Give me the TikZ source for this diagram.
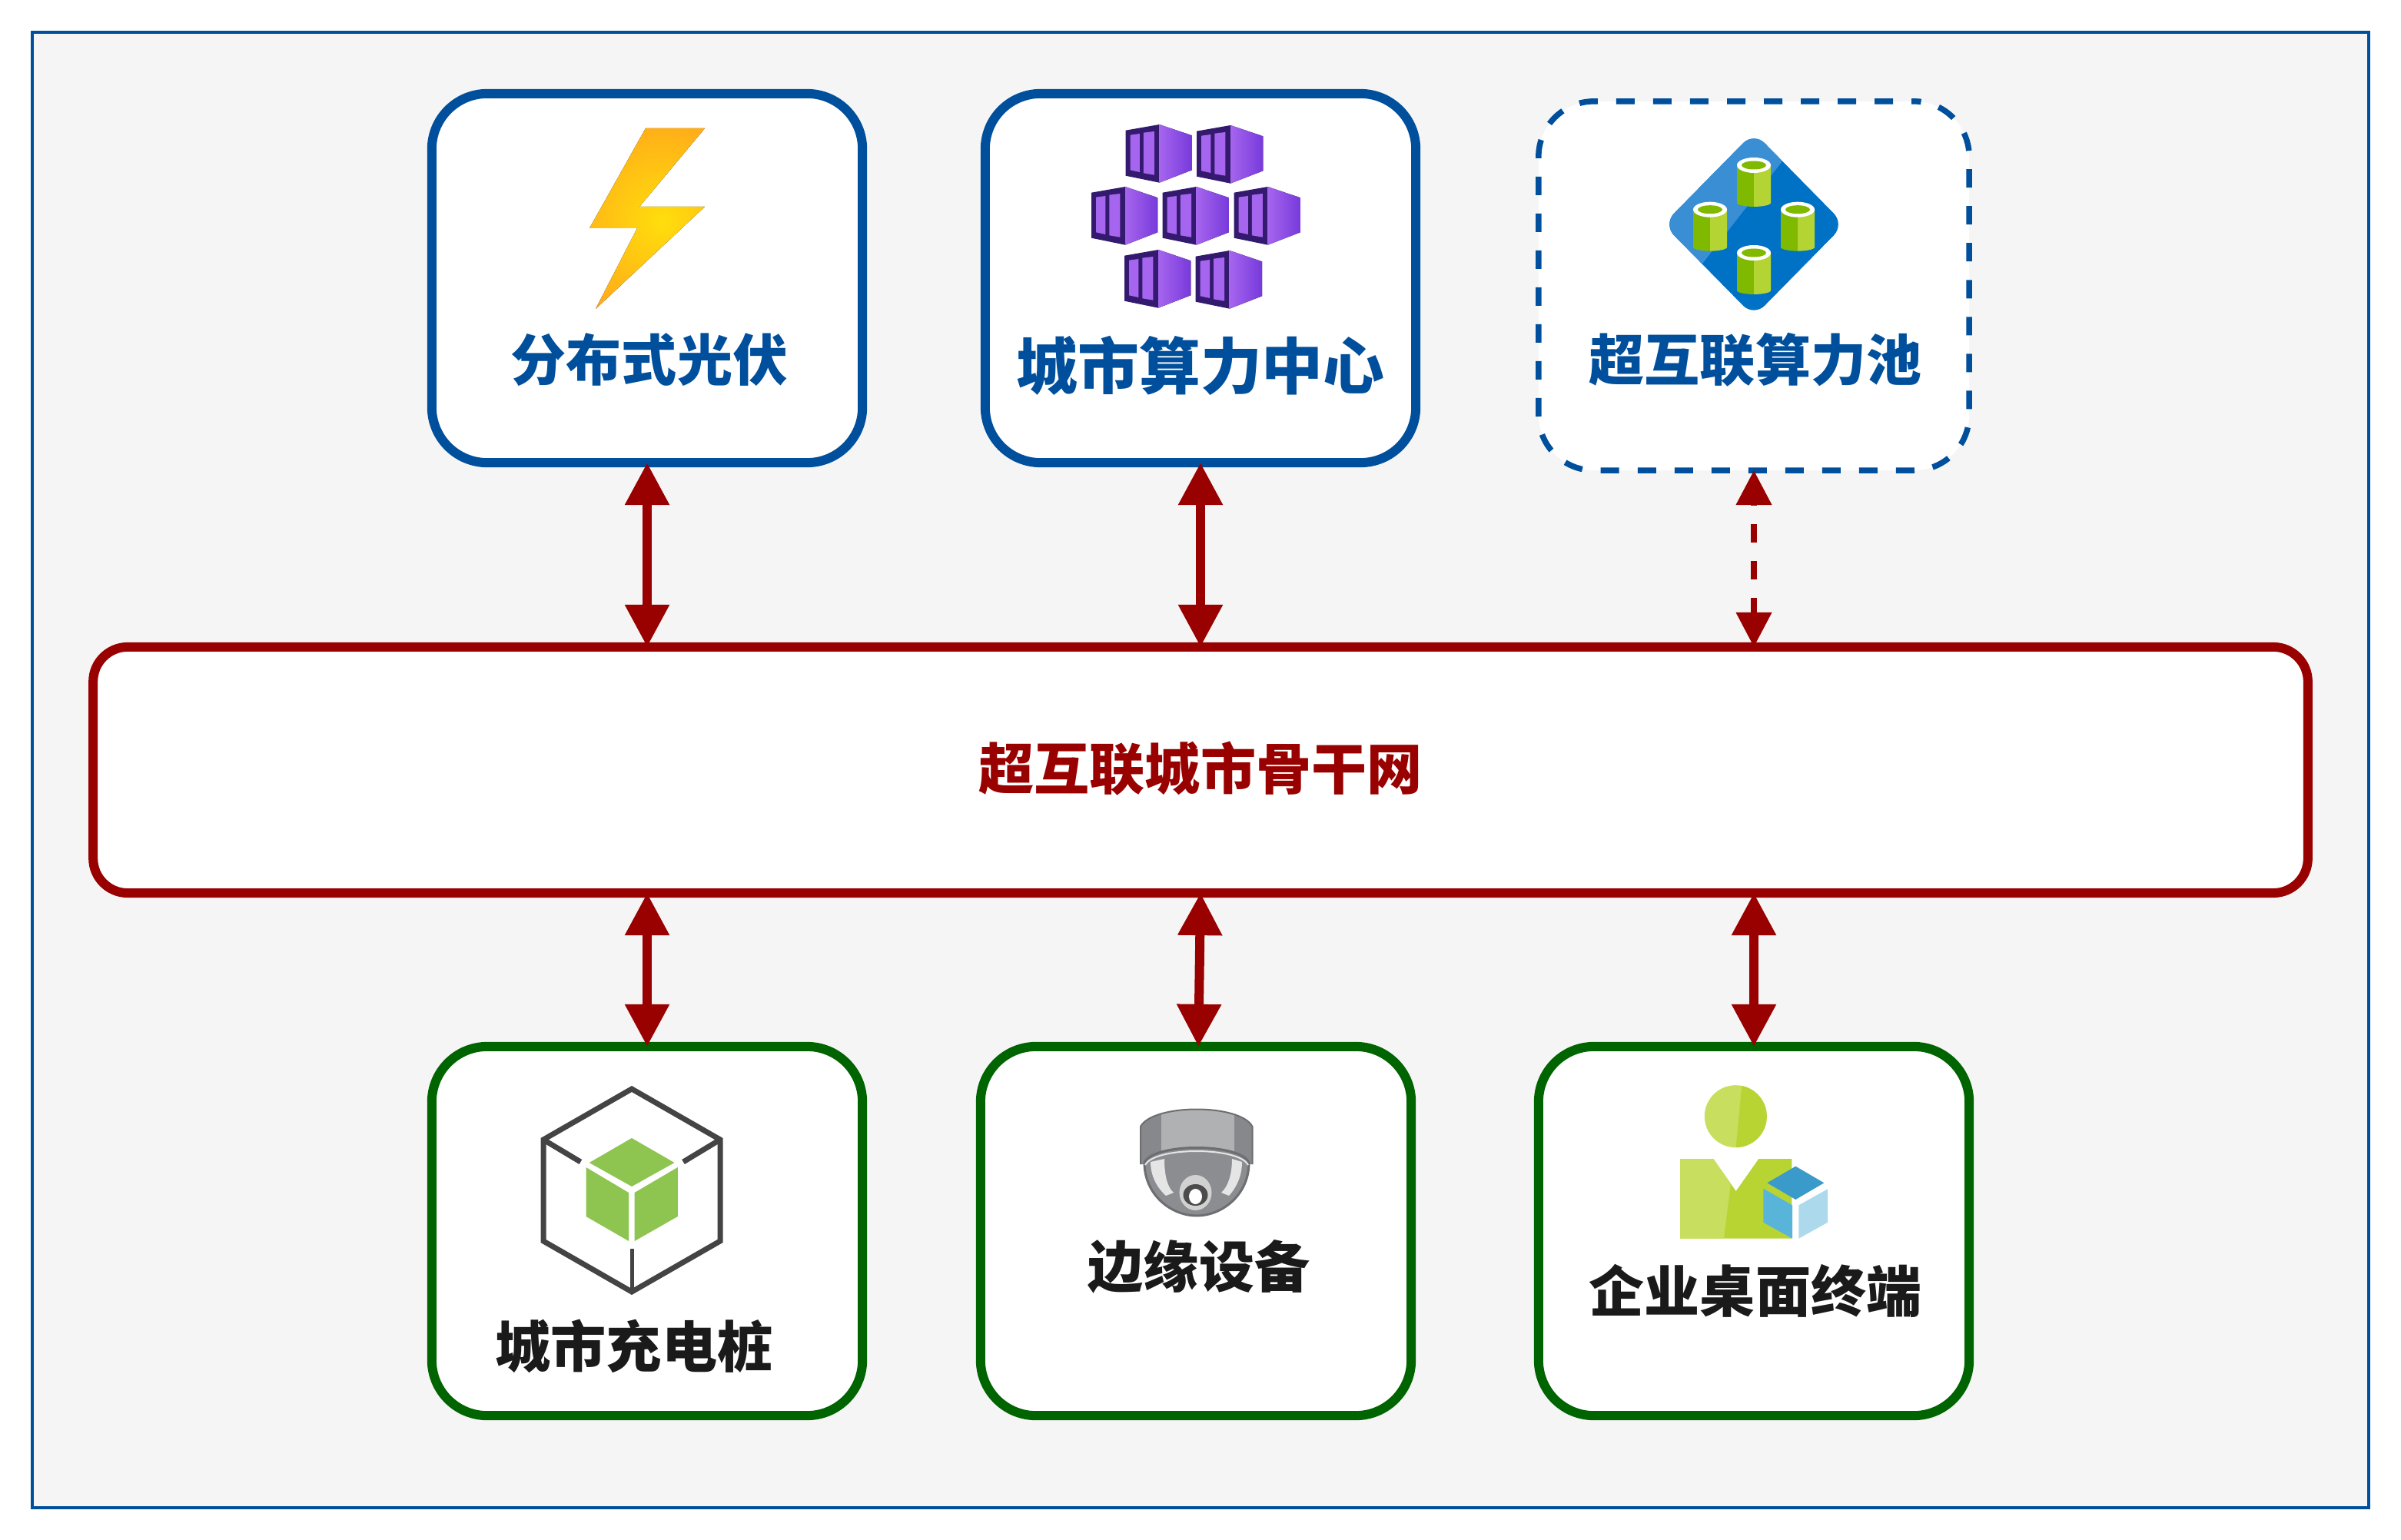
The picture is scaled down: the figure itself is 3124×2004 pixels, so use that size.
\documentclass[tikz,border=0pt]{standalone}
\usepackage{fontspec}
\usepackage{xcolor}
\setmainfont{Noto Sans CJK SC}
\usetikzlibrary{arrows.meta, positioning, calc}

\definecolor{edgeblue}{HTML}{004F9C}
\definecolor{edgegreen}{HTML}{006400}
\definecolor{linkred}{HTML}{990000}
\definecolor{panelgray}{HTML}{F5F5F5}
\definecolor{inkdark}{HTML}{1A1A1A}
\definecolor{boltcore}{HTML}{FFDE0C}
\definecolor{boltrim}{HTML}{FF9F1C}
\definecolor{rackdark}{HTML}{341A6E}
\definecolor{rackmid}{HTML}{A665EE}
\definecolor{rackright}{HTML}{773ADB}
\definecolor{drumdark}{HTML}{7FBA00}
\definecolor{drumlight}{HTML}{B4D433}
\definecolor{plateblue}{HTML}{0072C6}
\definecolor{plateshine}{HTML}{3A8FD4}
\definecolor{cubegray}{HTML}{444444}
\definecolor{cubegreen}{HTML}{8DC550}
\definecolor{camdark}{HTML}{87888C}
\definecolor{camlight}{HTML}{B0B1B3}
\definecolor{camedge}{HTML}{6D6E71}
\definecolor{cambowl}{HTML}{8C8D90}
\definecolor{personlight}{HTML}{C7DE5F}
\definecolor{personmid}{HTML}{B8D432}
\definecolor{boxtop}{HTML}{3A9AC9}
\definecolor{boxleft}{HTML}{59B4D9}
\definecolor{boxright}{HTML}{ADD9ED}

\begin{document}
\begin{tikzpicture}[
    x=0.01cm, y=-0.01cm,
    label/.style={font=\fontsize{20.5}{24}\selectfont\bfseries, inner sep=0pt},
    source/.style={rectangle, draw=edgeblue, line width=0.12cm, rounded corners=0.72cm, fill=white, minimum width=5.6cm, minimum height=4.8cm, outer sep=0pt},
    pool/.style={rectangle, draw=edgeblue, line width=0.075cm, dash pattern=on 0.24cm off 0.24cm, dash phase=0.21cm, rounded corners=0.72cm, fill=white, minimum width=5.6cm, minimum height=4.8cm, outer sep=0pt},
    edgebox/.style={rectangle, draw=edgegreen, line width=0.12cm, rounded corners=0.72cm, fill=white, minimum width=5.6cm, minimum height=4.8cm, outer sep=0pt},
    backbone/.style={rectangle, draw=linkred, line width=0.12cm, rounded corners=0.45cm, fill=white, minimum width=28.8cm, minimum height=3.2cm, outer sep=0pt},
    link/.style={linkred, line width=0.12cm, {Triangle[length=0.55cm,width=0.55cm]}-{Triangle[length=0.55cm,width=0.55cm]}},
    weaklink/.style={linkred, line width=0.075cm, dash pattern=on 0.24cm off 0.24cm, dash phase=0.212cm, {Triangle[length=0.45cm,width=0.45cm]}-{Triangle[length=0.45cm,width=0.45cm]}},
    rack/.pic={
        \fill[rackdark] (-44,7.7) -- (0,0) -- (0,75.7) -- (-44,66.7) -- cycle;
        \fill[left color=rackmid, right color=rackright] (0,0) -- (42.3,14.3) -- (42.3,59.3) -- (0,75.7) -- cycle;
        \fill[rackmid] (-38,13.7) -- (-25.7,12) -- (-25.7,62) -- (-38,59.3) -- cycle;
        \fill[rackmid] (-20.7,10.7) -- (-6.6,9) -- (-6.6,65.7) -- (-20.7,63.3) -- cycle;
    },
    drum/.pic={
        \fill[drumdark] (-22,0) -- (0,0) -- (0,54) .. controls (-10,54) and (-22,52) .. (-22,49) -- cycle;
        \fill[drumlight] (0,0) -- (22,0) -- (22,49) .. controls (22,52) and (10,54) .. (0,54) -- cycle;
        \fill[white] (0,0) ellipse (22 and 10);
        \fill[drumdark] (0,0) ellipse (16 and 5.5);
    }
]

\useasboundingbox (0,0) rectangle (3124,2004);
\draw[edgeblue, line width=0.04cm, fill=panelgray] (42,42) rectangle (3082,1962);

% Boxes
\node[source] (solar) at (842,362) {};
\node[source] (center) at (1562,362) {};
\node[pool] (pool) at (2282,372) {};
\node[backbone] (net) at (1562,1002) {};
\node[edgebox] (pile) at (842,1602) {};
\node[edgebox] (camera) at (1556,1602) {};
\node[edgebox] (desk) at (2282,1602) {};

% Labels
\node[label, text=edgeblue] (solartext) at (845,468) {分布式光伏};
\node[label, text=edgeblue, font=\fontsize{22.7}{26}\selectfont\bfseries] (centertext) at (1562,476) {城市算力中心};
\node[label, text=edgeblue] (pooltext) at (2284,468) {超互联算力池};
\node[label, text=linkred] (nettext) at (1562,1000) {超互联城市骨干网};
\node[label, text=inkdark] (piletext) at (825,1752) {城市充电桩};
\node[label, text=inkdark] (cameratext) at (1560,1648) {边缘设备};
\node[label, text=inkdark] (desktext) at (2284,1680) {企业桌面终端};

% Links
\draw[link] (solar.south) -- (solar.south |- net.north);
\draw[link] (center.south) -- (center.south |- net.north);
\draw[weaklink] (pool.south) -- (pool.south |- net.north);
\draw[link] (pile.north |- net.south) -- (pile.north);
\draw[link] (net.south) -- ([xshift=0.033cm]camera.north);
\draw[link] (desk.north |- net.south) -- (desk.north);

% Bolt
\begin{scope}
\clip (840,167) -- (917,167) -- (832,269) -- (917,269) -- (775,402) -- (829,297) -- (767,297) -- cycle;
\fill[inner color=boltcore, outer color=boltrim] (862,288) circle (165);
\end{scope}

% Racks
\pic at (1508.5,162) {rack};
\pic at (1601,163) {rack};
\pic at (1464,243) {rack};
\pic at (1556.6,243) {rack};
\pic at (1649.5,243) {rack};
\pic at (1507,325) {rack};
\pic at (1599.7,326) {rack};

% Diamond
\begin{scope}
\clip[rounded corners=0.2cm] (2282,172) -- (2400,292) -- (2282,412) -- (2164,292) -- cycle;
\fill[plateblue] (2160,170) rectangle (2404,414);
\fill[plateshine] (2160,170) -- (2318,170) -- (2318,211) -- (2215,343) -- (2160,343) -- cycle;
\end{scope}
\pic at (2282,215) {drum};
\pic at (2225,272.7) {drum};
\pic at (2339,272.7) {drum};
\pic at (2282,329) {drum};

% Green cube
\draw[cubegray, line width=0.07cm] (822,1417) -- (937,1483) -- (937,1615) -- (822,1681) -- (707,1615) -- (707,1483) -- cycle;
\draw[cubegray, line width=0.07cm] (707,1483) -- (755.4,1512);
\draw[cubegray, line width=0.07cm] (937,1483) -- (889,1512);
\draw[cubegray, line width=0.05cm] (822,1625) -- (822,1681);
\fill[cubegreen] (822,1481) -- (877.5,1513) -- (822,1544) -- (766.7,1513) -- cycle;
\fill[cubegreen] (762.5,1519) -- (818,1552) -- (818,1615) -- (762.5,1583) -- cycle;
\fill[cubegreen] (825.6,1552) -- (881.8,1519) -- (881.8,1583) -- (825.6,1615) -- cycle;

% Camera
\begin{scope}
\clip (1484,1515) -- (1484,1466) .. controls (1500,1436) and (1614,1436) .. (1629.5,1466) -- (1629.5,1515) -- cycle;
\fill[camdark] (1480,1430) rectangle (1634,1520);
\fill[camlight] (1511,1430) rectangle (1606,1520);
\end{scope}
\draw[camedge, line width=0.02cm] (1484,1515) -- (1484,1466) .. controls (1500,1436) and (1614,1436) .. (1629.5,1466) -- (1629.5,1515);
\draw[camedge, line width=0.03cm, fill=cambowl] (1489,1513) .. controls (1500,1487) and (1614,1487) .. (1625,1513) .. controls (1625,1555) and (1590,1582) .. (1557,1582) .. controls (1524,1582) and (1489,1555) .. (1489,1513) -- cycle;
\draw[white!90!black, line width=0.02cm] (1490,1516) .. controls (1502,1492) and (1612,1492) .. (1624,1516);
\fill[black!10] (1497,1512) -- (1515,1508) .. controls (1515,1530) and (1519,1545) .. (1527,1552) -- (1517,1556) .. controls (1505,1545) and (1497,1530) .. (1497,1512) -- cycle;
\fill[black!10] (1616,1512) -- (1603,1508) .. controls (1603,1530) and (1597,1545) .. (1589,1552) -- (1599,1556) .. controls (1609,1545) and (1616,1530) .. (1616,1512) -- cycle;
\fill[black!18] (1555.5,1552) ellipse (21 and 23);
\fill[black!70] (1555.5,1555) ellipse (16 and 14);
\fill[white] (1555.5,1557) ellipse (8.5 and 10);

% Person
\begin{scope}
\clip (2258.3,1452.7) circle (40.5);
\fill[personlight] (2210,1405) rectangle (2310,1500);
\fill[personmid] (2267,1405) -- (2310,1405) -- (2310,1500) -- (2258,1500) -- cycle;
\end{scope}
\fill[personmid] (2186,1508) -- (2229.3,1508) -- (2258.7,1550) -- (2288.3,1508) -- (2331.3,1508) -- (2331.3,1611.7) -- (2186,1611.7) -- cycle;
\fill[personlight] (2186,1508) -- (2229.3,1508) -- (2251.7,1541) -- (2243,1611.7) -- (2186,1611.7) -- cycle;
\fill[white] (2332,1560) rectangle (2340.3,1612);
\fill[boxtop] (2336.3,1517.7) -- (2373.3,1539.3) -- (2336.3,1561) -- (2299.3,1539.3) -- cycle;
\fill[boxleft] (2294.3,1546.7) -- (2332,1568.3) -- (2332,1611.7) -- (2294.3,1590.7) -- cycle;
\fill[boxright] (2340.3,1568.3) -- (2378,1547.3) -- (2378,1590.7) -- (2340.3,1611.7) -- cycle;

\end{tikzpicture}
\end{document}
